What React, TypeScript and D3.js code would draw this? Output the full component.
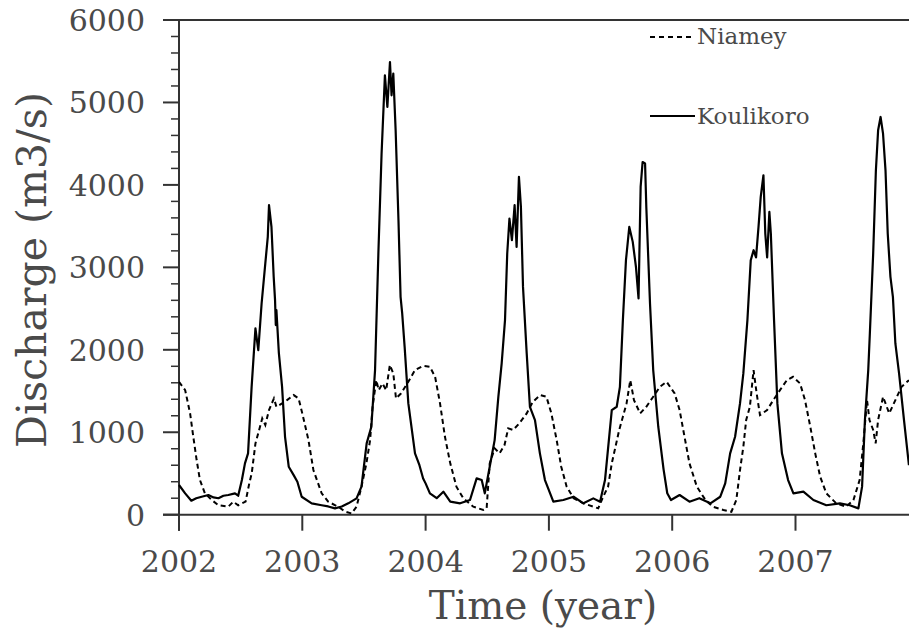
import React from "react";
import * as d3 from "d3";

const yearTicks = [2002, 2003, 2004, 2005, 2006, 2007];
const yMajorTicks = [0, 1000, 2000, 3000, 4000, 5000, 6000];
const legendLabels = ["Niamey", "Koulikoro"];

const kouT = [2002.00,2002.05,2002.10,2002.14,2002.184,2002.238,2002.28,2002.32,2002.36,2002.40,2002.454,2002.48,2002.51,2002.535,2002.56,2002.589,2002.62,2002.643,2002.67,2002.70,2002.72,2002.73,2002.75,2002.768,2002.779,2002.785,2002.79,2002.81,2002.836,2002.86,2002.89,2002.93,2002.96,2002.995,2003.076,2003.157,2003.21,2003.265,2003.32,2003.373,2003.44,2003.48,2003.522,2003.56,2003.59,2003.617,2003.643,2003.67,2003.69,2003.711,2003.724,2003.738,2003.757,2003.78,2003.797,2003.81,2003.83,2003.86,2003.914,2003.95,2003.98,2004.00,2004.035,2004.09,2004.144,2004.2,2004.28,2004.36,2004.414,2004.455,2004.48,2004.52,2004.56,2004.59,2004.617,2004.644,2004.662,2004.68,2004.70,2004.722,2004.738,2004.757,2004.773,2004.79,2004.82,2004.846,2004.887,2004.927,2004.968,2005.036,2005.117,2005.2,2005.28,2005.36,2005.415,2005.455,2005.51,2005.55,2005.576,2005.6,2005.625,2005.652,2005.68,2005.706,2005.727,2005.744,2005.76,2005.78,2005.79,2005.82,2005.846,2005.887,2005.93,2005.96,2005.99,2006.06,2006.14,2006.22,2006.31,2006.39,2006.43,2006.47,2006.51,2006.55,2006.577,2006.61,2006.637,2006.66,2006.68,2006.70,2006.718,2006.74,2006.755,2006.77,2006.788,2006.80,2006.826,2006.853,2006.89,2006.94,2006.983,2007.064,2007.145,2007.25,2007.36,2007.44,2007.51,2007.54,2007.563,2007.59,2007.603,2007.63,2007.652,2007.67,2007.69,2007.71,2007.73,2007.748,2007.77,2007.79,2007.81,2007.84,2007.88,2007.92];
const kouQ = [360,259,170,200,218,239,210,200,230,239,259,230,420,623,744,1551,2259,1996,2562,3047,3370,3754,3490,2885,2602,2300,2481,1960,1551,945,582,480,400,218,138,115,100,77,100,138,198,340,865,1067,1754,3168,4380,5329,4945,5490,5087,5350,4662,3572,2642,2444,2036,1350,744,600,440,380,259,200,279,158,138,178,441,420,259,582,905,1430,1835,2360,3168,3592,3329,3754,3248,4097,3733,2763,1956,1309,1148,744,420,158,178,218,138,198,158,420,1269,1309,1551,2360,3087,3490,3309,3006,2623,3975,4278,4260,3733,2562,1754,1067,550,260,178,239,158,200,138,218,380,744,945,1350,1714,2360,3087,3208,3120,3490,3854,4117,3410,3120,3672,3410,2360,1350,744,420,259,279,178,115,138,115,77,340,1148,1754,2198,3168,4177,4662,4824,4621,4177,3410,2885,2642,2077,1714,1148,600];

const niaT = [2002.00,2002.05,2002.09,2002.116,2002.143,2002.17,2002.21,2002.265,2002.32,2002.40,2002.44,2002.48,2002.54,2002.57,2002.59,2002.62,2002.65,2002.675,2002.70,2002.73,2002.77,2002.79,2002.836,2002.876,2002.93,2002.97,2003.00,2003.05,2003.09,2003.157,2003.21,2003.29,2003.35,2003.40,2003.44,2003.48,2003.52,2003.55,2003.57,2003.60,2003.62,2003.65,2003.68,2003.71,2003.738,2003.76,2003.80,2003.86,2003.914,2003.98,2004.035,2004.077,2004.117,2004.157,2004.2,2004.25,2004.306,2004.387,2004.468,2004.495,2004.52,2004.56,2004.60,2004.64,2004.67,2004.71,2004.76,2004.82,2004.87,2004.93,2004.98,2005.02,2005.063,2005.10,2005.144,2005.2,2005.28,2005.36,2005.40,2005.44,2005.48,2005.51,2005.54,2005.57,2005.60,2005.63,2005.66,2005.69,2005.74,2005.79,2005.846,2005.90,2005.955,2006.02,2006.06,2006.10,2006.14,2006.2,2006.27,2006.33,2006.415,2006.48,2006.52,2006.55,2006.577,2006.60,2006.63,2006.66,2006.685,2006.712,2006.77,2006.82,2006.874,2006.93,2006.98,2007.037,2007.077,2007.12,2007.16,2007.2,2007.25,2007.33,2007.41,2007.47,2007.52,2007.55,2007.58,2007.60,2007.63,2007.65,2007.67,2007.71,2007.76,2007.81,2007.86,2007.92];
const niaQ = [1612,1511,1229,945,663,420,259,178,115,97,158,115,158,380,502,865,1027,1168,1088,1269,1410,1309,1350,1390,1451,1410,1229,905,542,259,158,97,36,15,97,340,623,905,1309,1632,1511,1592,1511,1815,1714,1410,1470,1612,1754,1805,1794,1673,1350,945,623,340,200,97,57,77,623,804,744,845,1047,1027,1108,1229,1370,1451,1430,1229,905,582,340,200,138,97,77,218,340,623,824,1027,1188,1350,1632,1390,1229,1309,1430,1551,1612,1470,1269,945,623,340,178,97,57,36,178,542,824,1148,1309,1754,1470,1208,1269,1390,1511,1632,1673,1592,1390,1067,744,461,259,138,97,178,420,865,1390,1148,1027,865,1148,1430,1229,1390,1551,1632];

const W = 909;
const H = 630;
const FONT = "'DejaVu Serif', serif";
const AXIS = "#333";
const TXT = "#4a4a4a";

export default function App() {
  const x = d3.scaleLinear().domain([2002, 2008]).range([179, 179 + 6 * 123.3]);
  const y = d3.scaleLinear().domain([0, 6000]).range([514.7, 20]);

  const mk = (T: number[], Q: number[]) =>
    d3
      .line<[number, number]>()
      .x((d) => x(d[0]))
      .y((d) => y(d[1]))(T.map((t, i) => [t, Q[i]] as [number, number])) || "";

  const kouPath = mk(kouT, kouQ);
  const niaPath = mk(niaT, niaQ);
  const minorTicks = d3.range(0, 6001, 200).filter((v) => v % 1000 !== 0);
  const x0 = x(2002);
  const y0 = y(0);
  const yTop = y(6000);

  return (
    <svg
      width={W}
      height={H}
      style={{ position: "absolute", left: 0, top: 0, background: "#fff" }}
    >
      <rect x={0} y={0} width={W} height={H} fill="#fff" />
      <line x1={163} x2={W} y1={yTop} y2={yTop} stroke={AXIS} strokeWidth={2} />
      <line x1={163} x2={W} y1={y0} y2={y0} stroke={AXIS} strokeWidth={2} />
      <line x1={x0} x2={x0} y1={yTop} y2={y0 + 16} stroke={AXIS} strokeWidth={2} />
      {yMajorTicks.map((v) => (
        <g key={"ym" + v}>
          <line x1={163} x2={x0} y1={y(v)} y2={y(v)} stroke={AXIS} strokeWidth={2} />
          <text
            x={145}
            y={y(v) + 11}
            textAnchor="end"
            fontFamily={FONT}
            fontSize={30}
            fill={TXT}
          >
            {v}
          </text>
        </g>
      ))}
      {minorTicks.map((v) => (
        <line key={"yn" + v} x1={171} x2={x0} y1={y(v)} y2={y(v)} stroke={AXIS} strokeWidth={1.5} />
      ))}
      {yearTicks.map((t) => (
        <g key={"x" + t}>
          <line x1={x(t)} x2={x(t)} y1={y0} y2={y0 + 16} stroke={AXIS} strokeWidth={2} />
          <text
            x={x(t)}
            y={572}
            textAnchor="middle"
            fontFamily={FONT}
            fontSize={30}
            fill={TXT}
          >
            {t}
          </text>
        </g>
      ))}
      <path d={niaPath} fill="none" stroke="#000" strokeWidth={2} strokeDasharray="5,3.5" />
      <path d={kouPath} fill="none" stroke="#000" strokeWidth={2.2} strokeLinejoin="round" />
      <line x1={650} x2={695} y1={37} y2={37} stroke="#000" strokeWidth={1.8} strokeDasharray="5,4" />
      <text x={697} y={44} fontFamily={FONT} fontSize={23} fill={TXT}>
        {legendLabels[0]}
      </text>
      <line x1={650} x2={695} y1={116} y2={116} stroke="#000" strokeWidth={2} />
      <text x={697} y={124} fontFamily={FONT} fontSize={23} fill={TXT}>
        {legendLabels[1]}
      </text>
      <text
        x={543}
        y={619}
        textAnchor="middle"
        fontFamily={FONT}
        fontSize={39}
        fill={TXT}
      >
        Time (year)
      </text>
      <text
        transform="translate(46,270) rotate(-90)"
        textAnchor="middle"
        fontFamily={FONT}
        fontSize={41}
        fill={TXT}
      >
        Discharge (m3/s)
      </text>
    </svg>
  );
}
